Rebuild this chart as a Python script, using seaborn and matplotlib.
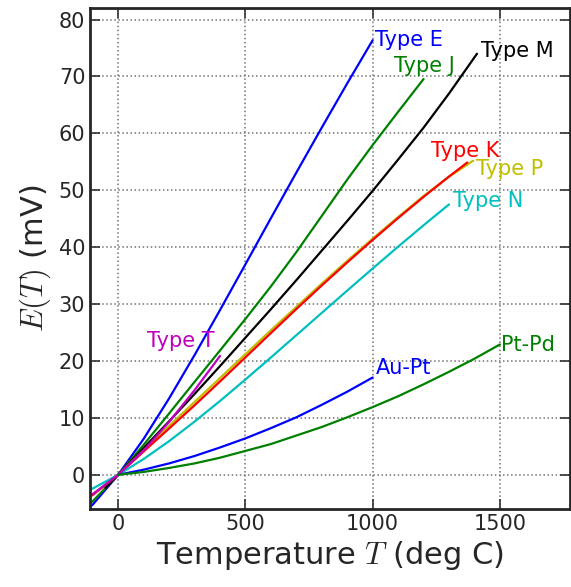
import matplotlib
matplotlib.use("Agg")
import matplotlib.pyplot as plt
import seaborn as sns

# Thermocouple EMF tables, temperature in deg C and E in mV
type_e_t = [-200, -100, 0, 100, 200, 300, 400, 500, 600, 700, 800, 900, 1000]
type_e_e = [-8.825, -5.237, 0, 6.319, 13.421, 21.036, 28.946, 36.999, 45.093, 53.112, 61.017, 68.787, 76.373]

type_j_t = [-200, -100, 0, 100, 200, 300, 400, 500, 600, 700, 800, 900, 1000, 1100, 1200]
type_j_e = [-7.890, -4.633, 0, 5.269, 10.779, 16.327, 21.848, 27.393, 33.102, 39.132, 45.494, 51.877, 57.953, 63.792, 69.553]

type_m_t = [-50, 0, 100, 200, 300, 400, 500, 600, 700, 800, 900, 1000, 1100, 1200, 1300, 1410]
type_m_e = [-2.3, 0, 4.7, 9.4, 14.2, 19.1, 24.1, 29.1, 34.2, 39.4, 44.6, 49.9, 55.4, 61.0, 67.0, 74.0]

type_p_t = [0, 100, 200, 300, 400, 500, 600, 700, 800, 900, 1000, 1100, 1200, 1300, 1395]
type_p_e = [0, 4.3, 8.6, 12.8, 17.0, 21.2, 25.4, 29.5, 33.6, 37.6, 41.5, 45.3, 49.0, 52.4, 55.2]

type_k_t = [-200, -100, 0, 100, 200, 300, 400, 500, 600, 700, 800, 900, 1000, 1100, 1200, 1300, 1372]
type_k_e = [-5.891, -3.554, 0, 4.096, 8.138, 12.209, 16.397, 20.644, 24.905, 29.129, 33.275, 37.326, 41.276, 45.119, 48.838, 52.410, 54.886]

type_n_t = [-200, -100, 0, 100, 200, 300, 400, 500, 600, 700, 800, 900, 1000, 1100, 1200, 1300]
type_n_e = [-3.990, -2.407, 0, 2.774, 5.913, 9.341, 12.974, 16.748, 20.613, 24.527, 28.455, 32.371, 36.256, 40.087, 43.846, 47.513]

type_t_t = [-200, -100, 0, 100, 200, 300, 400]
type_t_e = [-5.603, -3.379, 0, 4.279, 9.288, 14.862, 20.872]

au_pt_t = [0, 100, 200, 300, 400, 500, 600, 700, 800, 900, 1000]
au_pt_e = [0, 0.9, 2.0, 3.3, 4.8, 6.4, 8.2, 10.1, 12.3, 14.6, 17.1]

pt_pd_t = [0, 100, 200, 300, 400, 500, 600, 700, 800, 900, 1000, 1100, 1200, 1300, 1400, 1500]
pt_pd_e = [0, 0.5, 1.2, 2.0, 3.0, 4.2, 5.4, 6.9, 8.4, 10.1, 11.9, 13.8, 15.9, 18.1, 20.4, 22.9]

# name, temps, emfs, colour, label position
curves = [
    ("Type E", type_e_t, type_e_e, "b", (1010, 76.5)),
    ("Type J", type_j_t, type_j_e, "g", (1083, 71.8)),
    ("Type M", type_m_t, type_m_e, "k", (1425, 74.4)),
    ("Type P", type_p_t, type_p_e, "y", (1405, 53.8)),
    ("Type K", type_k_t, type_k_e, "r", (1228, 56.9)),
    ("Type N", type_n_t, type_n_e, "c", (1315, 48.2)),
    ("Type T", type_t_t, type_t_e, "m", (114, 23.5)),
    ("Au-Pt", au_pt_t, au_pt_e, "b", (1012, 18.7)),
    ("Pt-Pd", pt_pd_t, pt_pd_e, "g", (1504, 22.8)),
]

sns.set_style("ticks", {
    "xtick.direction": "in",
    "ytick.direction": "in",
    "xtick.top": True,
    "ytick.right": True,
    "axes.edgecolor": "0.15",
})
plt.rcParams["font.family"] = ["DejaVu Sans"]
plt.rcParams["mathtext.fontset"] = "cm"
sns.set_palette([(0, 0, 1), (0, 0.5, 0), (1, 0, 0), (0, 0.75, 0.75),
                 (0.75, 0, 0.75), (0.75, 0.75, 0), (0, 0, 0)], color_codes=True)

fig = plt.figure(figsize=(5.71, 5.87), dpi=100)
ax = fig.add_axes([0.158, 0.133, 0.84, 0.853])

for name, t, e, col, (lx, ly) in curves:
    sns.lineplot(x=t, y=e, color=col, lw=1.6, ax=ax, sort=False, estimator=None)
    ax.text(lx, ly, name, color=col, fontsize=15, ha="left", va="center")

ax.set_xlim(-110, 1775)
ax.set_ylim(-6, 82)
ax.set_xticks([0, 500, 1000, 1500])
ax.set_yticks(range(0, 81, 10))
ax.grid(True, linestyle=":", color="0.45", lw=1.1)
ax.tick_params(labelsize=15, length=7, width=1.2, color="0.2")
for sp in ax.spines.values():
    sp.set_linewidth(2)
ax.set_xlabel("Temperature $T$ (deg C)", fontsize=22)
ax.set_ylabel("$E(T)$ (mV)", fontsize=22)

fig.savefig("out.png", dpi=100)
